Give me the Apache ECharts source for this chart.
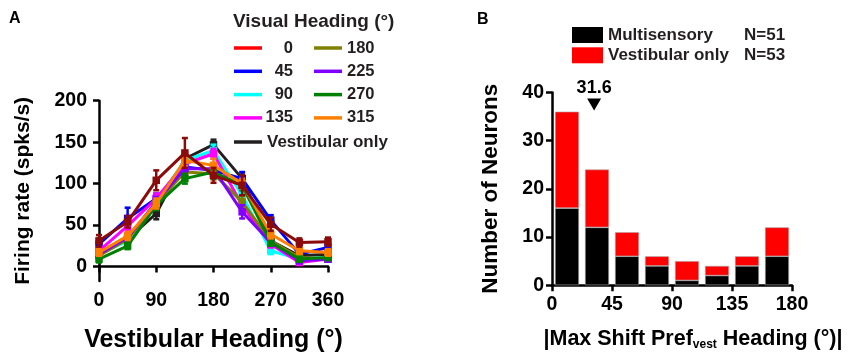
<!DOCTYPE html>
<html>
<head>
<meta charset="utf-8">
<script src="https://cdn.jsdelivr.net/npm/echarts@6/dist/echarts.min.js"></script>
<style>html,body{margin:0;padding:0;background:#fff}#c{width:858px;height:358px}</style>
</head>
<body>
<div id="c"></div>
<script>
// ---- Panel A data ----
var headings = [0, 45, 90, 135, 180, 225, 270, 315, 360];
var lineNames = ['Vestibular only', '45', '90', '135', '180', '225', '270', '315', '0'];
var lineColors = ['#231f20', '#0000ff', '#00ffff', '#ff00ff', '#808000', '#8000ff', '#008000', '#ff8000', '#8b0a0a'];
var legendColors = ['#231f20', '#0000ff', '#00ffff', '#ff00ff', '#808000', '#8000ff', '#008000', '#ff8000', '#ff0000'];
var vestMean = [17, 33, 64, 130, 147, 106, 31, 13, 15];
var vestErr  = [5, 5, 7, 6, 6, 5, 5, 3, 3];
var v45Mean  = [27, 58, 82, 120, 116, 106, 56, 15, 23];
var v45Err   = [6, 13, 6, 6, 6, 8, 6, 4, 4];
var v90Mean  = [15, 31, 78, 128, 140, 86, 19, 9, 11];
var v90Err   = [4, 5, 6, 6, 7, 6, 4, 3, 3];
var v135Mean = [19, 49, 82, 124, 136, 74, 27, 5, 9];
var v135Err  = [4, 5, 6, 6, 6, 6, 4, 3, 3];
var v180Mean = [13, 33, 76, 114, 112, 78, 31, 11, 9];
var v180Err  = [4, 5, 6, 6, 7, 7, 4, 3, 3];
var v225Mean = [15, 35, 78, 118, 118, 66, 29, 7, 9];
var v225Err  = [4, 5, 6, 6, 6, 8, 4, 3, 3];
var v270Mean = [9, 25, 74, 106, 114, 98, 29, 9, 11];
var v270Err  = [4, 4, 6, 6, 8, 6, 4, 3, 3];
var v315Mean = [17, 37, 76, 128, 122, 100, 39, 19, 17];
var v315Err  = [4, 5, 6, 7, 8, 6, 5, 4, 4];
var v0Mean   = [31, 54, 104, 137, 110, 98, 51, 29, 30];
var v0Err    = [7, 7, 12, 18, 9, 12, 8, 5, 5];
var allMeans = [vestMean, v45Mean, v90Mean, v135Mean, v180Mean, v225Mean, v270Mean, v315Mean, v0Mean];
var allErrs  = [vestErr, v45Err, v90Err, v135Err, v180Err, v225Err, v270Err, v315Err, v0Err];
var yTicksA = [0, 50, 100, 150, 200];
var xTicksA = [0, 90, 180, 270, 360];

// ---- Panel B data ----
var binLabels = ['0-22.5', '22.5-45', '45-67.5', '67.5-90', '90-112.5', '112.5-135', '135-157.5', '157.5-180'];
var multiCounts = [16, 12, 6, 4, 1, 2, 4, 6];
var vestCounts  = [20, 12, 5, 2, 4, 2, 2, 6];
var medianShift = 31.6;
var nMulti = 51, nVest = 53;

var FONT = '"Liberation Sans", Arial, sans-serif';
var TXT = '#231f20';
var chart = echarts.init(document.getElementById('c'), null, {renderer: 'canvas'});

var series = [];
for (var i = 0; i < lineNames.length; i++) {
  var pts = headings.map(function (h, k) { return [h, allMeans[i][k]]; });
  var errPts = headings.map(function (h, k) { return [h, allMeans[i][k], allErrs[i][k]]; });
  series.push({
    type: 'custom', xAxisIndex: 0, yAxisIndex: 0, z: 2 + i * 2,
    silent: true,
    renderItem: (function (col) {
      return function (params, api) {
        var x = api.value(0), y = api.value(1), e = api.value(2);
        var t = api.coord([x, y + e]), b = api.coord([x, y - e]);
        var st = {stroke: col, lineWidth: 2.5};
        return {type: 'group', children: [
          {type: 'line', shape: {x1: t[0], y1: t[1], x2: b[0], y2: b[1]}, style: st},
          {type: 'line', shape: {x1: t[0] - 3, y1: t[1], x2: t[0] + 3, y2: t[1]}, style: st},
          {type: 'line', shape: {x1: b[0] - 3, y1: b[1], x2: b[0] + 3, y2: b[1]}, style: st}
        ]};
      };
    })(lineColors[i]),
    data: errPts
  });
  series.push({
    name: lineNames[i], type: 'line', xAxisIndex: 0, yAxisIndex: 0, z: 3 + i * 2,
    data: pts, symbol: 'rect', symbolSize: 7.5, showSymbol: true,
    lineStyle: {color: lineColors[i], width: 3},
    itemStyle: {color: lineColors[i]},
    emphasis: {disabled: true}
  });
}

series.push({
  name: 'Multisensory', type: 'bar', xAxisIndex: 1, yAxisIndex: 1, stack: 'h',
  barWidth: 24, data: multiCounts,
  itemStyle: {color: '#000', borderColor: '#aaa', borderWidth: 0.6}
});
series.push({
  name: 'Vestibular only B', type: 'bar', xAxisIndex: 1, yAxisIndex: 1, stack: 'h',
  barWidth: 24, data: vestCounts,
  itemStyle: {color: '#ff0000', borderColor: '#aaa', borderWidth: 0.6}
});
series.push({
  name: 'median', type: 'scatter', xAxisIndex: 2, yAxisIndex: 1, z: 20,
  symbol: 'triangle', symbolRotate: 180, symbolSize: [14, 12],
  itemStyle: {color: '#000', opacity: 1},
  label: {show: true, position: 'top', distance: 1, formatter: String(medianShift),
    color: '#000', opacity: 1, fontFamily: FONT, fontWeight: 'bold', fontSize: 18},
  emphasis: {disabled: true},
  data: [[medianShift, 37.5]]
});

function legendItem(name, col) {
  return {name: name, itemStyle: {color: col}};
}

var axisLineStyle = {color: '#000', width: 2.5};
var tickStyle = {show: true, length: 6, lineStyle: {color: '#000', width: 2.5}};
var tickLab = {color: '#000', fontFamily: FONT, fontWeight: 'bold', fontSize: 19.5};
var legRich = {lineHeight: 15, fontFamily: FONT, fontWeight: 'bold', fontSize: 17, color: TXT};
var legRichNum = {lineHeight: 15, fontFamily: FONT, fontWeight: 'bold', fontSize: 16.5, color: TXT};

var option = {
  animation: false,
  textStyle: {fontFamily: FONT},
  title: [
    {text: 'A', left: 9, top: 11, padding: 0, textStyle: {fontFamily: FONT, fontWeight: 'bold', fontSize: 16, color: '#000'}},
    {text: 'B', left: 477, top: 12, padding: 0, textStyle: {fontFamily: FONT, fontWeight: 'bold', fontSize: 16, color: '#000'}},
    {text: 'Visual Heading (°)', left: 233, top: 12, padding: 0, textStyle: {fontFamily: FONT, fontWeight: 'bold', fontSize: 19, color: TXT}}
  ],
  legend: [
    {
      orient: 'vertical', left: 234, top: 39.5, padding: 0, itemWidth: 28, itemHeight: 3.5, itemGap: 6.3, itemTextGap: 4,
      icon: 'rect', selectedMode: false,
      data: [legendItem('0', legendColors[8]), legendItem('45', legendColors[1]), legendItem('90', legendColors[2]), legendItem('135', legendColors[3])],
      formatter: '{a|{name}}',
      textStyle: {rich: {a: Object.assign({width: 26, align: 'right'}, legRichNum)}}
    },
    {
      orient: 'vertical', left: 314, top: 39.5, padding: 0, itemWidth: 28, itemHeight: 3.5, itemGap: 6.3, itemTextGap: 4,
      icon: 'rect', selectedMode: false,
      data: [legendItem('180', legendColors[4]), legendItem('225', legendColors[5]), legendItem('270', legendColors[6]), legendItem('315', legendColors[7])],
      formatter: '{a|{name}}',
      textStyle: {rich: {a: legRichNum}}
    },
    {
      orient: 'vertical', left: 234, top: 133.5, padding: 0, itemWidth: 28, itemHeight: 3.5, itemTextGap: 4,
      icon: 'rect', selectedMode: false,
      data: [legendItem('Vestibular only', legendColors[0])],
      formatter: '{a|{name}}',
      textStyle: {rich: {a: legRich}}
    },
    {
      orient: 'vertical', left: 572, top: 26.5, padding: 0, itemWidth: 31, itemHeight: 16, itemGap: 3.3, itemTextGap: 12,
      icon: 'rect', selectedMode: false,
      data: [{name: 'Multisensory', itemStyle: {color: '#000', borderWidth: 0}}, {name: 'Vestibular only B', itemStyle: {color: '#ff0000', borderWidth: 0}}],
      formatter: function (name) {
        if (name === 'Multisensory') return '{n|Multisensory}{c|N=' + nMulti + '}';
        return '{n|Vestibular only}{c|N=' + nVest + '}';
      },
      textStyle: {rich: {
        n: {width: 136, fontFamily: FONT, fontWeight: 'bold', fontSize: 17, color: TXT},
        c: {fontFamily: FONT, fontWeight: 'bold', fontSize: 17, color: TXT}
      }}
    }
  ],
  grid: [
    {left: 99, width: 229, top: 100.7, height: 183.8},
    {left: 552, width: 240, top: 92.4, height: 192.8}
  ],
  xAxis: [
    {
      type: 'value', gridIndex: 0, min: 0, max: 360, interval: 90,
      axisLine: {show: true, lineStyle: axisLineStyle},
      axisTick: tickStyle,
      axisLabel: Object.assign({margin: 10}, tickLab),
      splitLine: {show: false},
      name: 'Vestibular Heading (°)', nameLocation: 'middle', nameGap: 47,
      nameTextStyle: {fontFamily: FONT, fontWeight: 'bold', fontSize: 25, color: '#000'}
    },
    {
      type: 'category', gridIndex: 1, data: binLabels, boundaryGap: true,
      show: false
    },
    {
      type: 'value', gridIndex: 1, min: 0, max: 180, interval: 45, position: 'bottom',
      axisLine: {show: true, onZero: false, lineStyle: axisLineStyle},
      axisTick: tickStyle,
      axisLabel: Object.assign({margin: 9}, tickLab),
      splitLine: {show: false},
      name: '|Max Shift Pref{s|vest} Heading (°)|', nameLocation: 'middle', nameGap: 43,
      nameTextStyle: {fontFamily: FONT, fontWeight: 'bold', fontSize: 21.5, color: '#000', padding: [0, 0, 0, 42],
        rich: {s: {fontFamily: FONT, fontWeight: 'bold', fontSize: 12, color: '#000', verticalAlign: 'bottom', padding: [10, 0, 0, 0]}}}
    }
  ],
  yAxis: [
    {
      type: 'value', gridIndex: 0, min: -17.4, max: 200,
      axisLine: {show: true, lineStyle: axisLineStyle},
      axisTick: Object.assign({customValues: yTicksA}, tickStyle),
      axisLabel: Object.assign({margin: 12, customValues: yTicksA}, tickLab),
      splitLine: {show: false},
      name: 'Firing rate (spks/s)', nameLocation: 'middle', nameGap: 65, nameRotate: 90,
      nameTextStyle: {fontFamily: FONT, fontWeight: 'bold', fontSize: 21, color: '#000'}
    },
    {
      type: 'value', gridIndex: 1, min: 0, max: 40, interval: 10,
      axisLine: {show: true, lineStyle: axisLineStyle},
      axisTick: tickStyle,
      axisLabel: Object.assign({margin: 8}, tickLab),
      splitLine: {show: false},
      name: 'Number of Neurons', nameLocation: 'middle', nameGap: 50, nameRotate: 90,
      nameTextStyle: {fontFamily: FONT, fontWeight: 'bold', fontSize: 22.5, color: '#000'}
    }
  ],
  series: series
};
chart.setOption(option);
</script>
</body>
</html>
